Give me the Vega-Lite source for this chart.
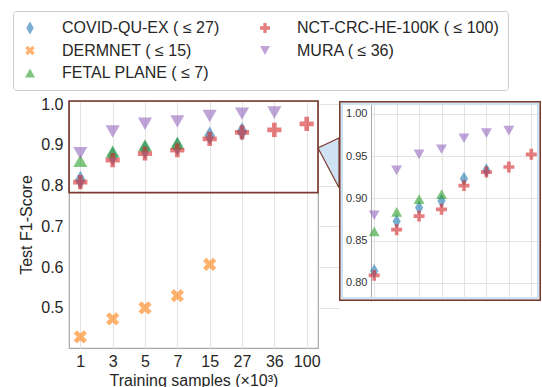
{
  "$schema": "https://vega.github.io/schema/vega-lite/v6.json",
  "background": "white",
  "padding": {"left": 12, "top": 10, "right": 2, "bottom": 0},
  "config": {
    "font": "Liberation Sans",
    "axis": {
      "labelFont": "Liberation Sans",
      "titleFont": "Liberation Sans",
      "labelColor": "#262626",
      "titleColor": "#262626",
      "titleFontWeight": "normal",
      "gridColor": "#e3e3e3",
      "gridWidth": 1
    },
    "axisY": {
      "labelFontSize": 16,
      "titleFontSize": 16
    }
  },
  "datasets": {
    "scores": [
      {"dataset": "COVID-QU-EX ( ≤ 27)", "samples": "1", "f1": 0.814},
      {"dataset": "COVID-QU-EX ( ≤ 27)", "samples": "3", "f1": 0.873},
      {"dataset": "COVID-QU-EX ( ≤ 27)", "samples": "5", "f1": 0.889},
      {"dataset": "COVID-QU-EX ( ≤ 27)", "samples": "7", "f1": 0.897},
      {"dataset": "COVID-QU-EX ( ≤ 27)", "samples": "15", "f1": 0.923},
      {"dataset": "COVID-QU-EX ( ≤ 27)", "samples": "27", "f1": 0.933},
      {"dataset": "DERMNET ( ≤ 15)", "samples": "1", "f1": 0.429},
      {"dataset": "DERMNET ( ≤ 15)", "samples": "3", "f1": 0.473},
      {"dataset": "DERMNET ( ≤ 15)", "samples": "5", "f1": 0.500},
      {"dataset": "DERMNET ( ≤ 15)", "samples": "7", "f1": 0.530},
      {"dataset": "DERMNET ( ≤ 15)", "samples": "15", "f1": 0.607},
      {"dataset": "FETAL PLANE ( ≤ 7)", "samples": "1", "f1": 0.861},
      {"dataset": "FETAL PLANE ( ≤ 7)", "samples": "3", "f1": 0.884},
      {"dataset": "FETAL PLANE ( ≤ 7)", "samples": "5", "f1": 0.899},
      {"dataset": "FETAL PLANE ( ≤ 7)", "samples": "7", "f1": 0.905},
      {"dataset": "NCT-CRC-HE-100K ( ≤ 100)", "samples": "1", "f1": 0.809},
      {"dataset": "NCT-CRC-HE-100K ( ≤ 100)", "samples": "3", "f1": 0.863},
      {"dataset": "NCT-CRC-HE-100K ( ≤ 100)", "samples": "5", "f1": 0.879},
      {"dataset": "NCT-CRC-HE-100K ( ≤ 100)", "samples": "7", "f1": 0.887},
      {"dataset": "NCT-CRC-HE-100K ( ≤ 100)", "samples": "15", "f1": 0.915},
      {"dataset": "NCT-CRC-HE-100K ( ≤ 100)", "samples": "27", "f1": 0.931},
      {"dataset": "NCT-CRC-HE-100K ( ≤ 100)", "samples": "36", "f1": 0.937},
      {"dataset": "NCT-CRC-HE-100K ( ≤ 100)", "samples": "100", "f1": 0.952},
      {"dataset": "MURA ( ≤ 36)", "samples": "1", "f1": 0.880},
      {"dataset": "MURA ( ≤ 36)", "samples": "3", "f1": 0.933},
      {"dataset": "MURA ( ≤ 36)", "samples": "5", "f1": 0.952},
      {"dataset": "MURA ( ≤ 36)", "samples": "7", "f1": 0.958},
      {"dataset": "MURA ( ≤ 36)", "samples": "15", "f1": 0.971},
      {"dataset": "MURA ( ≤ 36)", "samples": "27", "f1": 0.977},
      {"dataset": "MURA ( ≤ 36)", "samples": "36", "f1": 0.980}
    ]
  },
  "bounds": "flush",
  "spacing": 21,
  "hconcat": [
    {
      "width": 249,
      "height": 247,
      "view": {"stroke": "#a8a8a8", "strokeWidth": 1.2},
      "resolve": {"scale": {"x": "independent"}},
      "layer": [
        {
          "data": {"values": [
            {"t": 0, "lo": 0.8925, "hi": 0.8925},
            {"t": 1, "lo": 0.795, "hi": 0.917}
          ]},
          "mark": {"type": "area", "fill": "#cfe2f3", "stroke": "#7b3a2e", "strokeWidth": 1.2, "clip": false},
          "encoding": {
            "x": {"field": "t", "type": "quantitative", "scale": {"domain": [0, 1], "range": [249, 270]}, "axis": null},
            "y": {
              "field": "lo", "type": "quantitative", "title": "Test F1-Score",
              "scale": {"domain": [0.4016, 1.008], "nice": false, "zero": false},
              "axis": {"values": [0.5, 0.6, 0.7, 0.8, 0.9, 1.0], "format": ".1f", "grid": true, "ticks": false, "domain": false, "labelPadding": 6, "titlePadding": 6}
            },
            "y2": {"field": "hi"}
          }
        },
        {
          "data": {"values": [{}]},
          "mark": {"type": "rect", "filled": false, "stroke": "#7b3a2e", "strokeWidth": 1.6},
          "encoding": {
            "y": {
              "datum": 0.783, "type": "quantitative", "title": "Test F1-Score",
              "scale": {"domain": [0.4016, 1.008], "nice": false, "zero": false},
              "axis": {"values": [0.5, 0.6, 0.7, 0.8, 0.9, 1.0], "format": ".1f", "grid": true, "ticks": false, "domain": false, "labelPadding": 6, "titlePadding": 6}
            },
            "y2": {"datum": 1.008}
          }
        },
        {
          "data": {"name": "scores"},
          "mark": {"type": "point", "filled": true, "opacity": 0.6, "size": 200, "strokeWidth": 0},
          "encoding": {
            "x": {
              "field": "samples", "type": "ordinal",
              "scale": {"type": "point", "domain": ["1", "3", "5", "7", "15", "27", "36", "100"], "padding": 0.35},
              "axis": {
                "title": "Training samples (×10³)", "labelAngle": 0, "grid": true, "ticks": false, "domain": false,
                "labelFontSize": 16, "titleFontSize": 16, "labelPadding": 5, "titlePadding": 3
              }
            },
            "y": {
              "field": "f1", "type": "quantitative", "title": "Test F1-Score",
              "scale": {"domain": [0.4016, 1.008], "nice": false, "zero": false},
              "axis": {"values": [0.5, 0.6, 0.7, 0.8, 0.9, 1.0], "format": ".1f", "grid": true, "ticks": false, "domain": false, "labelPadding": 6, "titlePadding": 6}
            },
            "color": {
              "field": "dataset", "type": "nominal",
              "scale": {
                "domain": ["COVID-QU-EX ( ≤ 27)", "DERMNET ( ≤ 15)", "FETAL PLANE ( ≤ 7)", "NCT-CRC-HE-100K ( ≤ 100)", "MURA ( ≤ 36)"],
                "range": ["#1f77b4", "#ff7f0e", "#2ca02c", "#d62728", "#9467bd"]
              },
              "legend": {
                "orient": "none", "legendX": -56, "legendY": -90, "columns": 2, "direction": "vertical", "title": null,
                "labelFontSize": 16, "labelFont": "Liberation Sans", "labelColor": "#262626", "labelLimit": 300,
                "symbolSize": 100, "symbolOpacity": 0.6, "symbolStrokeWidth": 0,
                "strokeColor": "#cccccc", "fillColor": "white", "cornerRadius": 3,
                "padding": 9, "rowPadding": 6.5, "columnPadding": 37, "labelOffset": 24
              }
            },
            "shape": {
              "field": "dataset", "type": "nominal",
              "scale": {
                "domain": ["COVID-QU-EX ( ≤ 27)", "DERMNET ( ≤ 15)", "FETAL PLANE ( ≤ 7)", "NCT-CRC-HE-100K ( ≤ 100)", "MURA ( ≤ 36)"],
                "range": [
                  "M0,-1.3L0.75,0L0,1.3L-0.75,0Z",
                  "M0.47,-0.94L0.94,-0.47L0.47,0L0.94,0.47L0.47,0.94L0,0.47L-0.47,0.94L-0.94,0.47L-0.47,0L-0.94,-0.47L-0.47,-0.94L0,-0.47Z",
                  "M0,-0.88L1,0.88L-1,0.88Z",
                  "M-0.33,-1L0.33,-1L0.33,-0.33L1,-0.33L1,0.33L0.33,0.33L0.33,1L-0.33,1L-0.33,0.33L-1,0.33L-1,-0.33L-0.33,-0.33Z",
                  "M-1,-0.88L1,-0.88L0,0.88Z"
                ]
              }
            }
          }
        }
      ]
    },
    {
      "width": 202,
      "height": 200,
      "view": {"fill": "white", "stroke": null},
      "layer": [
        {
          "data": {"name": "scores"},
          "transform": [{"filter": "datum.f1 >= 0.78"}],
          "mark": {"type": "point", "filled": true, "opacity": 0.6, "size": 120, "strokeWidth": 0},
          "encoding": {
            "x": {
              "field": "samples", "type": "ordinal",
              "scale": {"type": "point", "domain": ["1", "3", "5", "7", "15", "27", "36", "100"], "padding": 1.71, "align": 0.784},
              "axis": {"title": null, "labels": false, "ticks": false, "domain": false, "grid": true}
            },
            "y": {
              "field": "f1", "type": "quantitative",
              "scale": {"domain": [0.7787, 1.015], "nice": false, "zero": false},
              "axis": {
                "title": null, "values": [0.8, 0.85, 0.9, 0.95, 1.0], "format": ".2f",
                "grid": false, "ticks": true, "tickSize": -170, "tickColor": "#e3e3e3", "tickWidth": 1,
                "offset": -32, "labelPadding": 174, "labelFontSize": 11, "labelColor": "#333333",
                "domain": true, "domainColor": "#a8a8a8", "domainWidth": 1
              }
            },
            "color": {"field": "dataset", "type": "nominal"},
            "shape": {"field": "dataset", "type": "nominal"}
          }
        },
        {
          "data": {"values": [{}]},
          "mark": {"type": "rect", "filled": false, "stroke": "#cfe2f3", "strokeWidth": 8, "clip": true},
          "encoding": {}
        },
        {
          "data": {"values": [{}]},
          "mark": {"type": "rect", "filled": false, "stroke": "#7b3a2e", "strokeWidth": 3, "clip": true},
          "encoding": {}
        }
      ]
    }
  ]
}
